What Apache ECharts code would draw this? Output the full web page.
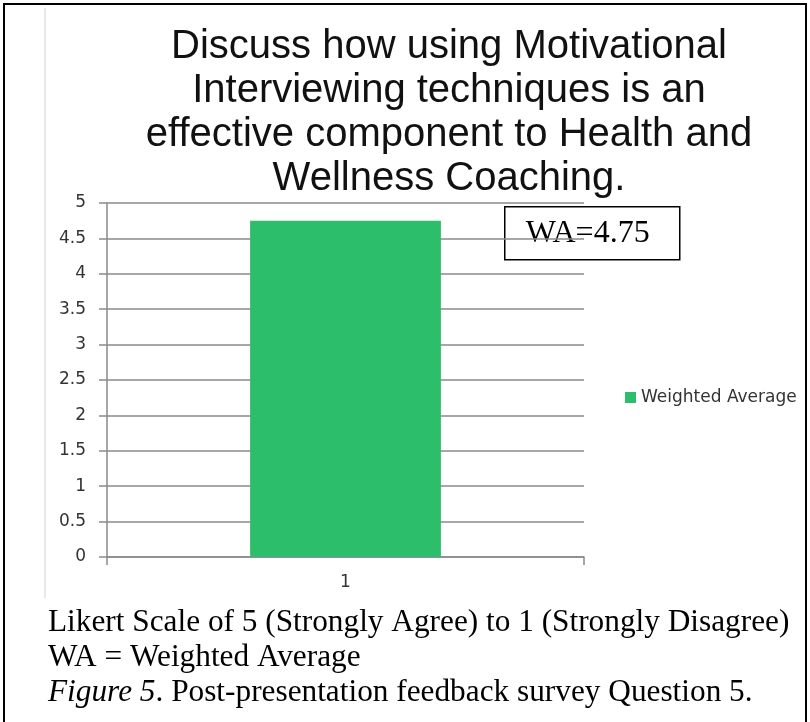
<!DOCTYPE html>
<html>
<head>
<meta charset="utf-8">
<title>Weighted Average - Question 5</title>
<script src="https://cdn.jsdelivr.net/npm/echarts@6/dist/echarts.min.js"></script>
<style>
    html, body {
        margin: 0;
        padding: 0;
        background: #fff;
    }

    #chart {
        width: 810px;
        height: 722px;
    }
</style>
</head>
<body>
<div id="chart"></div>
<script>
// data
const categories = ['1'];
const seriesName = 'Weighted Average';
const weightedAvg = [4.75];
const yMin = 0;
const yMax = 5;
const yStep = 0.5;

const titleText = 'Discuss how using Motivational\nInterviewing techniques is an\neffective component to Health and\nWellness Coaching.';
const captionLines = [
    'Likert Scale of 5 (Strongly Agree) to 1 (Strongly Disagree)',
    'WA = Weighted Average',
    'Post-presentation feedback survey Question 5.'
];

const gray = '#8a8a8a';
const labelFont = 'DejaVu Sans';

const chart = echarts.init(document.getElementById('chart'));

chart.setOption({
    animation: false,
    title: {
        text: titleText,
        left: 444,
        top: 20,
        textAlign: 'center',
        textStyle: {
            fontFamily: 'Liberation Sans',
            fontWeight: 'normal',
            fontSize: 40,
            lineHeight: 44,
            color: '#111'
        }
    },
    legend: {
        left: 620,
        top: 384,
        icon: 'rect',
        itemWidth: 11,
        itemHeight: 11,
        itemGap: 10,
        textStyle: {
            fontFamily: labelFont,
            fontSize: 17,
            color: '#333'
        },
        data: [seriesName]
    },
    grid: {
        left: 107,
        right: 226,
        top: 203,
        bottom: 165,
        containLabel: false
    },
    xAxis: {
        type: 'category',
        data: categories,
        axisLine: { lineStyle: { color: gray, width: 1.5 } },
        axisTick: { show: true, length: 8, lineStyle: { color: gray, width: 1.5 } },
        axisLabel: {
            margin: 17,
            fontFamily: labelFont,
            fontSize: 17,
            color: '#333'
        }
    },
    yAxis: {
        type: 'value',
        min: yMin,
        max: yMax,
        interval: yStep,
        axisLine: { show: true, lineStyle: { color: gray, width: 1.5 } },
        axisTick: { show: true, length: 8, lineStyle: { color: gray, width: 1.5 } },
        splitLine: { lineStyle: { color: gray, width: 1.5 } },
        axisLabel: {
            margin: 21,
            fontFamily: labelFont,
            fontSize: 17,
            color: '#333'
        }
    },
    series: [{
        name: seriesName,
        type: 'bar',
        data: weightedAvg,
        barWidth: '40%',
        itemStyle: { color: '#2dbe6c' }
    }],
    graphic: [
        // faint spreadsheet edge left of the chart
        {
            type: 'line',
            shape: { x1: 45, y1: 8, x2: 45, y2: 598 },
            style: { stroke: '#e2e2e2', lineWidth: 1.5 },
            z: 1
        },
        // outer frame of the figure
        {
            type: 'rect',
            shape: { x: 4, y: 4, width: 802, height: 740 },
            style: { fill: 'none', stroke: '#000', lineWidth: 2 },
            z: 100
        },
        // WA call-out box
        {
            type: 'group',
            left: 504,
            top: 206,
            z: 100,
            children: [
                {
                    type: 'rect',
                    shape: { x: 0, y: 0, width: 175, height: 53 },
                    style: { fill: '#fff', stroke: '#000', lineWidth: 1.5 }
                },
                {
                    type: 'text',
                    x: 83,
                    y: 27,
                    style: {
                        text: 'WA=' + weightedAvg[0],
                        fontFamily: 'Liberation Serif',
                        fontSize: 32,
                        fill: '#000',
                        align: 'center',
                        verticalAlign: 'middle'
                    }
                }
            ]
        },
        // caption under the chart
        {
            type: 'text',
            left: 48,
            top: 605,
            style: {
                text: captionLines[0] + '\n' + captionLines[1] + '\n{i|Figure 5}. ' + captionLines[2],
                fontFamily: 'Liberation Serif',
                fontSize: 31.3,
                lineHeight: 35,
                fill: '#000',
                rich: {
                    i: {
                        fontFamily: 'Liberation Serif',
                        fontStyle: 'italic',
                        fontSize: 31.3,
                        lineHeight: 35
                    }
                }
            }
        }
    ]
});
</script>
</body>
</html>
